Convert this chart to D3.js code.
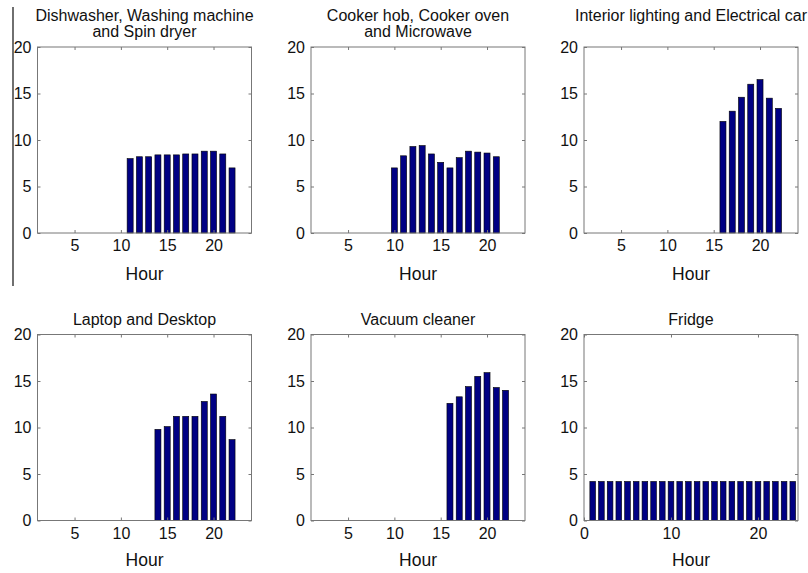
<!DOCTYPE html>
<html>
<head>
<meta charset="utf-8">
<script src="https://cdn.jsdelivr.net/npm/d3@7"></script>
<style>
  body { margin: 0; background: #fff; }
  text { font-family: "Liberation Sans", Arial, sans-serif; fill: #111; }
</style>
</head>
<body>
<div class="chart"></div>
<script>
// appliance usage per hour
const titles = [
  ['Dishwasher, Washing machine', 'and Spin dryer'],
  ['Cooker hob, Cooker oven', 'and Microwave'],
  ['Interior lighting and Electrical car', ''],
  ['Laptop and Desktop'],
  ['Vacuum cleaner'],
  ['Fridge']
];

const washHours = [11, 12, 13, 14, 15, 16, 17, 18, 19, 20, 21, 22];
const washValues = [8.0, 8.2, 8.2, 8.4, 8.4, 8.4, 8.5, 8.5, 8.8, 8.8, 8.5, 7.0];

const cookHours = [10, 11, 12, 13, 14, 15, 16, 17, 18, 19, 20, 21];
const cookValues = [7.0, 8.3, 9.3, 9.4, 8.5, 7.6, 7.0, 8.1, 8.8, 8.7, 8.6, 8.2];

const lightHours = [16, 17, 18, 19, 20, 21, 22];
const lightValues = [12.0, 13.1, 14.6, 16.0, 16.5, 14.5, 13.4];

const laptopHours = [14, 15, 16, 17, 18, 19, 20, 21, 22];
const laptopValues = [9.8, 10.1, 11.2, 11.2, 11.2, 12.8, 13.6, 11.2, 8.7];

const vacuumHours = [16, 17, 18, 19, 20, 21, 22];
const vacuumValues = [12.6, 13.3, 14.4, 15.5, 15.9, 14.3, 14.0];

const fridgeHours = [1, 2, 3, 4, 5, 6, 7, 8, 9, 10, 11, 12, 13, 14, 15, 16, 17, 18, 19, 20, 21, 22, 23, 24];
const fridgeValues = [4.2, 4.2, 4.2, 4.2, 4.2, 4.2, 4.2, 4.2, 4.2, 4.2, 4.2, 4.2,
                      4.2, 4.2, 4.2, 4.2, 4.2, 4.2, 4.2, 4.2, 4.2, 4.2, 4.2, 4.2];

const yTicks = [0, 5, 10, 15, 20];
const hourTicks = [5, 10, 15, 20];
const fridgeTicks = [0, 10, 20];

const panels = [
  {hours: washHours, values: washValues, xdom: [1, 24.1], ticks: hourTicks},
  {hours: cookHours, values: cookValues, xdom: [1, 24.1], ticks: hourTicks},
  {hours: lightHours, values: lightValues, xdom: [1, 24.1], ticks: hourTicks},
  {hours: laptopHours, values: laptopValues, xdom: [1, 24.1], ticks: hourTicks},
  {hours: vacuumHours, values: vacuumValues, xdom: [1, 24.1], ticks: hourTicks},
  {hours: fridgeHours, values: fridgeValues, xdom: [0, 24.6], ticks: fridgeTicks}
];

const svgwidth = 808;
const svgheight = 573;
const colX = [37.5, 311, 584];
const rowY = [47, 334.5];
const pw = 214;
const ph = 186;
const barW = 0.65;

const svg = d3.select('.chart').append('svg')
  .attr('width', svgwidth)
  .attr('height', svgheight);

// stray border line on the left of the scan
svg.append('line')
  .attr('x1', 13).attr('x2', 13)
  .attr('y1', 7).attr('y2', 286)
  .attr('stroke', '#222')
  .attr('stroke-width', 1.3);

panels.forEach((p, i) => {
  const left = colX[i % 3];
  const row = Math.floor(i / 3);
  const top = rowY[row];

  const x = d3.scaleLinear().domain(p.xdom).range([0, pw]);
  const y = d3.scaleLinear().domain([0, 20]).range([ph, 0]);

  const g = svg.append('g').attr('transform', `translate(${left},${top})`);

  g.selectAll('rect.bar')
    .data(p.hours)
    .enter()
    .append('rect')
    .attr('class', 'bar')
    .attr('x', d => x(d - barW / 2))
    .attr('width', d => x(d + barW / 2) - x(d - barW / 2))
    .attr('y', (d, j) => y(p.values[j]))
    .attr('height', (d, j) => y(0) - y(p.values[j]))
    .attr('fill', '#000083')
    .attr('stroke', '#000')
    .attr('stroke-width', 0.6);

  const axisStyle = sel => {
    sel.select('.domain').remove();
    sel.selectAll('line').attr('stroke', '#777');
    sel.selectAll('text').attr('font-size', 16).attr('fill', '#111')
      .attr('font-family', '"Liberation Sans", Arial, sans-serif');
  };

  g.append('g').attr('transform', `translate(0,${ph})`)
    .call(d3.axisBottom(x).tickValues(p.ticks).tickSize(-3).tickPadding(7))
    .call(axisStyle);
  g.append('g')
    .call(d3.axisTop(x).tickValues(p.ticks).tickSize(-3).tickFormat(''))
    .call(axisStyle);
  g.append('g')
    .call(d3.axisLeft(y).tickValues(yTicks).tickSize(-3).tickPadding(6))
    .call(axisStyle);
  g.append('g').attr('transform', `translate(${pw},0)`)
    .call(d3.axisRight(y).tickValues(yTicks).tickSize(-3).tickFormat(''))
    .call(axisStyle);

  g.append('rect')
    .attr('width', pw).attr('height', ph)
    .attr('fill', 'none')
    .attr('stroke', '#777')
    .attr('stroke-width', 1);

  const lines = titles[i];
  lines.forEach((t, k) => {
    g.append('text')
      .attr('x', pw / 2)
      .attr('y', -10 - (lines.length - 1 - k) * 16.5)
      .attr('text-anchor', 'middle')
      .attr('font-size', 16)
      .text(t);
  });

  g.append('text')
    .attr('x', pw / 2)
    .attr('y', ph + (row === 0 ? 47 : 45))
    .attr('text-anchor', 'middle')
    .attr('font-size', 17.5)
    .text('Hour');
});
</script>
</body>
</html>
